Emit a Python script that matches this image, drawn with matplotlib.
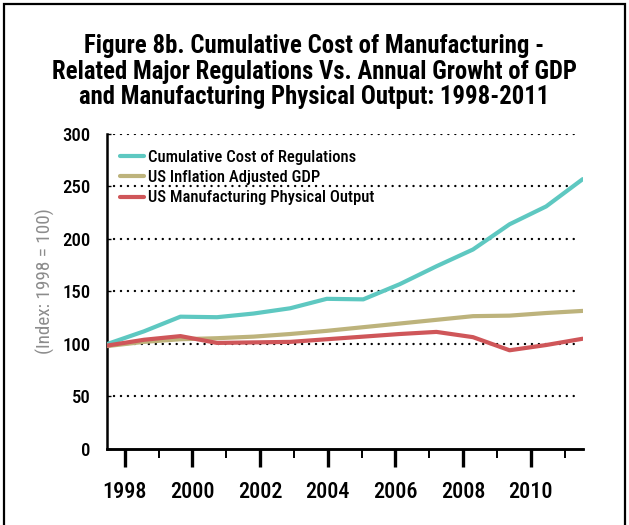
import matplotlib
matplotlib.use("Agg")
import matplotlib.pyplot as plt
from matplotlib import font_manager
from matplotlib.patches import Rectangle
import numpy as np

# Values (index, 1998 = 100), 14 annual points 1998-2011
years = list(range(1998, 2012))
regulation_cost = [100, 112, 126, 125.5, 129, 134, 143, 142.5, 157, 174, 190, 214, 231, 257]
gdp = [98, 102, 104.5, 105.5, 107, 109.5, 112.5, 116, 119.5, 123, 126.5, 127, 129.5, 131.5]
mfg_output = [98.5, 104, 107.5, 101, 101.5, 102, 104.5, 107, 109.5, 111.5, 106.5, 94, 99, 105]

series_names = [
    "Cumulative Cost of Regulations",
    "US Inflation Adjusted GDP",
    "US Manufacturing Physical Output",
]
series_colors = ["#5ec8c1", "#bdb37c", "#cf5659"]

y_ticks = [0, 50, 100, 150, 200, 250, 300]
major_years = [1998, 2000, 2002, 2004, 2006, 2008, 2010]
minor_years = [1999, 2001, 2003, 2005, 2007, 2009, 2011]

title = ("Figure 8b. Cumulative Cost of Manufacturing -\n"
         "Related Major Regulations Vs. Annual Growht of GDP\n"
         "and Manufacturing Physical Output: 1998-2011")
y_label = "(Index: 1998 = 100)"

# In the source the points are spread over the full axis width while the
# year ticks sit on a slightly different scale; reproduce that mapping.
YEAR_AT_LEFT = 1997.486
YEARS_PER_STEP = 14.05 / 13

# pick a condensed sans face (Helvetica Condensed look-alike)
available = {f.name for f in font_manager.fontManager.ttflist}
font_name = "DejaVu Sans"
for cand in ["Roboto Condensed", "Archivo Narrow", "Barlow Condensed", "Liberation Sans Narrow"]:
    if cand in available:
        font_name = cand
        break
plt.rcParams["font.family"] = [font_name, "DejaVu Sans"]
plt.rcParams["font.stretch"] = "condensed"

fig = plt.figure(figsize=(6.29, 5.25), dpi=100)
ax = fig.add_axes([0.1706, 0.1448, 0.7558, 0.6000])

idx = np.arange(len(years))
for values, name, color in zip([regulation_cost, gdp, mfg_output], series_names, series_colors):
    ax.plot(idx, values, color=color, lw=3.0, solid_capstyle="round",
            solid_joinstyle="round", label=name, zorder=3)

ax.set_xlim(0, len(years) - 1)
ax.set_ylim(0, 300)

# dotted horizontal guides
ax.hlines(y_ticks[1:], 0, 12.82, colors="black", linestyles=(0, (0.05, 2.9)),
          lw=1.7, capstyle="round", zorder=1)

for side in ("top", "right"):
    ax.spines[side].set_visible(False)
ax.spines["left"].set_linewidth(1.8)
ax.spines["bottom"].set_linewidth(1.8)

ax.set_yticks(y_ticks)
ax.set_yticklabels([str(v) for v in y_ticks], fontsize=13.5, fontweight="medium")
ax.tick_params(axis="y", direction="in", length=3, width=1, pad=12)
ax.set_xticks([])

secx = ax.secondary_xaxis(
    "bottom",
    functions=(lambda i: YEAR_AT_LEFT + i * YEARS_PER_STEP,
               lambda y: (y - YEAR_AT_LEFT) / YEARS_PER_STEP),
)
secx.spines["bottom"].set_linewidth(1.8)
secx.set_xticks(major_years)
secx.set_xticklabels([str(y) for y in major_years], fontsize=16, fontweight="medium")
secx.set_xticks(minor_years, minor=True)
secx.tick_params(axis="x", which="major", direction="out", length=13, width=2.4, pad=10)
secx.tick_params(axis="x", which="minor", direction="out", length=6.5, width=1.4)

fig.text(0.0715, 0.465, y_label, rotation=90, ha="center", va="center",
         fontsize=13.8, color="#8c8c8c")

fig.text(0.5, 0.863, title, ha="center", va="center", fontsize=17.8,
         fontweight="bold", linespacing=1.08)

leg = ax.legend(loc="upper left", bbox_to_anchor=(0.027, 0.95), frameon=False,
                handlelength=1.45, handletextpad=0.2,
                labelspacing=0.32, borderaxespad=0.0, borderpad=0.0,
                prop={"size": 12, "weight": "medium"})

# outer frame (bottom edge falls off the canvas in the source)
fig.patches.append(Rectangle((4 / 629, -0.05), 621 / 629, 1 - 4 / 525 + 0.05,
                             transform=fig.transFigure, fill=False,
                             edgecolor="black", lw=1.6))

fig.savefig("out.png", dpi=100)
